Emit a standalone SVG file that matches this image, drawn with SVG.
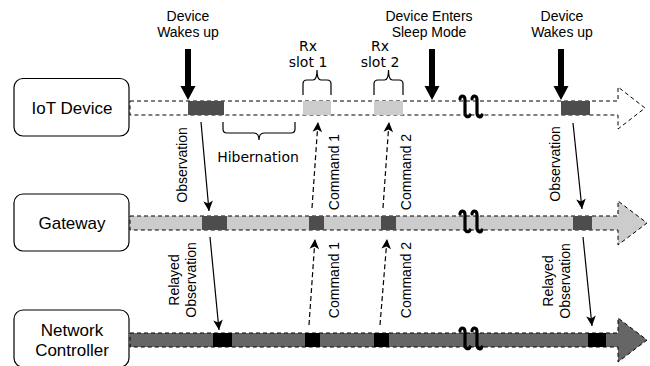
<svg xmlns="http://www.w3.org/2000/svg" width="650" height="366" viewBox="0 0 650 366">
<defs>
<style>
.box{fill:#fff;stroke:#000;stroke-width:1.2}
.lbl{font-family:"Liberation Sans",Arial,sans-serif;font-size:17px;fill:#000;text-anchor:middle}
.t14{font-family:"Liberation Sans",Arial,sans-serif;font-size:14px;fill:#000;text-anchor:middle}
.dv{font-family:"DejaVu Sans",sans-serif;font-size:14px;fill:#000;text-anchor:middle}
.lane{stroke:#000;stroke-width:1;stroke-dasharray:4 3}
.brace{fill:none;stroke:#000;stroke-width:1.2}
.brk{fill:none;stroke:#000;stroke-width:3.2;stroke-linecap:round}
.conn{fill:none;stroke:#000;stroke-width:1.2}
.dash{stroke-dasharray:5 3}
</style>
<marker id="ah" markerUnits="userSpaceOnUse" markerWidth="14" markerHeight="12" viewBox="-11 -6 12 12" refX="0" refY="0" orient="auto">
<path d="M-10,-4.8 L0,0 L-10,4.8 L-7.5,0 Z" fill="#000"/>
</marker>
<path id="squig" class="brk" d="M-10,-8 C-10,-12 -5,-12 -5,-7 L-5,6 C-5,10 -1,11 0,8 M2,-8 C2,-12 7,-12 7,-7 L7,6 C7,10 11,11 12,8"/>
</defs>

<g id="iot-device">
<rect class="box" x="14" y="78.5" width="115" height="57.5" rx="9"/>
<text class="lbl" x="72" y="113.5">IoT Device</text>
</g>
<g id="gateway">
<rect class="box" x="14" y="194" width="115" height="57" rx="9"/>
<text class="lbl" x="72" y="229">Gateway</text>
</g>
<g id="network-controller">
<rect class="box" x="14" y="310" width="115" height="57" rx="9"/>
<text class="lbl" x="72" y="336">Network</text>
<text class="lbl" x="72" y="356">Controller</text>
</g>

<g id="iot-lane">
<polygon class="lane" fill="#fff" points="130,101 618,101 618,87 645,108 618,129 618,115 130,115"/>
<rect x="188" y="101" width="36" height="14" fill="#4d4d4d"/>
<rect x="303" y="101" width="28" height="14" fill="#cccccc"/>
<rect x="374" y="101" width="29" height="14" fill="#cccccc"/>
<rect x="561" y="101" width="29" height="14" fill="#4d4d4d"/>
<use href="#squig" x="470" y="107"/>
</g>
<g id="gateway-lane">
<polygon class="lane" fill="#cccccc" points="130,216 618,216 618,201 647,223 618,245 618,230 130,230"/>
<rect x="202" y="216" width="25" height="14" fill="#4d4d4d"/>
<rect x="309" y="216" width="15" height="14" fill="#4d4d4d"/>
<rect x="381" y="216" width="15" height="14" fill="#4d4d4d"/>
<rect x="573" y="216" width="19" height="14" fill="#4d4d4d"/>
<use href="#squig" x="470" y="222"/>
</g>
<g id="network-lane">
<polygon class="lane" fill="#666666" points="130,333 618,333 618,318 647,340 618,362 618,347 130,347"/>
<rect x="213" y="333" width="19" height="14" fill="#000"/>
<rect x="305" y="333" width="15" height="14" fill="#000"/>
<rect x="374" y="333" width="15" height="14" fill="#000"/>
<rect x="588" y="333" width="18" height="14" fill="#000"/>
<use href="#squig" x="470" y="339"/>
</g>

<g id="event-wake-1">
<text class="t14" x="188" y="21">Device</text>
<text class="t14" x="188" y="37">Wakes up</text>
<polygon points="185,49 191,49 191,86 195.5,86 188,100 180.5,86 185,86" fill="#000"/>
</g>
<g id="event-sleep">
<text class="t14" x="429" y="21">Device Enters</text>
<text class="t14" x="429" y="37">Sleep Mode</text>
<polygon points="429,49 435,49 435,86 439.5,86 432,100 424.5,86 429,86" fill="#000"/>
</g>
<g id="event-wake-2">
<text class="t14" x="562" y="21">Device</text>
<text class="t14" x="562" y="37">Wakes up</text>
<polygon points="558,49 564,49 564,86 568.5,86 561,100 553.5,86 558,86" fill="#000"/>
</g>
<g id="rx-slot-1">
<text class="dv" x="308" y="51">Rx</text>
<text class="dv" x="308" y="67">slot 1</text>
<path class="brace" d="M303,95 V84 Q303,80 307,80 H313 Q317,80 317,70 Q317,80 321,80 H327 Q331,80 331,84 V95"/>
</g>
<g id="rx-slot-2">
<text class="dv" x="380" y="51">Rx</text>
<text class="dv" x="380" y="67">slot 2</text>
<path class="brace" d="M374,95 V84 Q374,80 378,80 H384.5 Q388.5,80 388.5,70 Q388.5,80 392.5,80 H399 Q403,80 403,84 V95"/>
</g>
<g id="hibernation">
<path class="brace" d="M223,122 V129 Q223,133 227,133 H254 Q259,133 259,140 Q259,133 264,133 H291 Q295,133 295,129 V122"/>
<text class="dv" x="258" y="162">Hibernation</text>
</g>

<g id="connectors">
<line class="conn" x1="201" y1="122" x2="209" y2="211" marker-end="url(#ah)"/>
<line class="conn" x1="210" y1="237" x2="219" y2="330" marker-end="url(#ah)"/>
<line class="conn" x1="573" y1="123" x2="582" y2="209" marker-end="url(#ah)"/>
<line class="conn" x1="583" y1="237" x2="592" y2="326" marker-end="url(#ah)"/>
<line class="conn dash" x1="312" y1="208" x2="318" y2="122" marker-end="url(#ah)"/>
<line class="conn dash" x1="383" y1="208" x2="389" y2="122" marker-end="url(#ah)"/>
<line class="conn dash" x1="309" y1="325" x2="315" y2="239" marker-end="url(#ah)"/>
<line class="conn dash" x1="380" y1="325" x2="387" y2="239" marker-end="url(#ah)"/>
<g class="t14">
<text transform="translate(182,165) rotate(-90)" dominant-baseline="central">Observation</text>
<text transform="translate(555,164) rotate(-90)" dominant-baseline="central">Observation</text>
<text transform="translate(334,172) rotate(-90)" dominant-baseline="central">Command 1</text>
<text transform="translate(406,172) rotate(-90)" dominant-baseline="central">Command 2</text>
<text transform="translate(334,280) rotate(-90)" dominant-baseline="central">Command 1</text>
<text transform="translate(406,280) rotate(-90)" dominant-baseline="central">Command 2</text>
<text transform="translate(182.5,280) rotate(-90)" dominant-baseline="central"><tspan x="0" y="-8.5">Relayed</tspan><tspan x="0" y="8.5">Observation</tspan></text>
<text transform="translate(556,281) rotate(-90)" dominant-baseline="central"><tspan x="0" y="-8.5">Relayed</tspan><tspan x="0" y="8.5">Observation</tspan></text>
</g>
</g>
</svg>
